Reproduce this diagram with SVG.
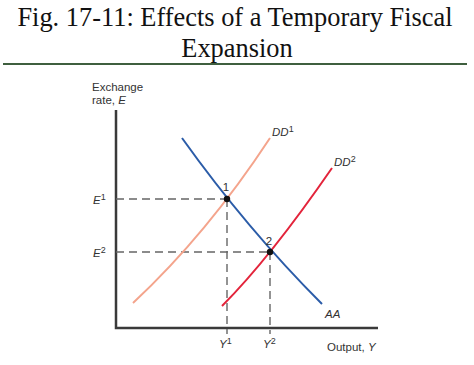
<svg xmlns="http://www.w3.org/2000/svg" width="474" height="365" viewBox="0 0 474 365">
<style>
.title{font-family:"Liberation Serif","Times New Roman",serif;font-size:26.4px;fill:#111;text-anchor:middle}
.lbl{font-family:"Liberation Sans",Arial,sans-serif;font-size:11.5px;fill:#333}
.it{font-style:italic}
.sup{font-size:9px;font-style:normal}
.axis{stroke:#3a3a3a;stroke-width:2.5;fill:none}
.dash{stroke:#666;stroke-width:1.4;stroke-dasharray:8,5;fill:none}
.curve{fill:none;stroke-width:2}
</style>
<rect width="474" height="365" fill="#fff"/>
<g id="title">
<text class="title" x="235" y="26">Fig. 17-11: Effects of a Temporary Fiscal</text>
<text class="title" x="237" y="57">Expansion</text>
<line x1="3" y1="64" x2="467" y2="64" stroke="#3f5f3f" stroke-width="2"/>
</g>
<g id="axes">
<polyline class="axis" points="116,110 116,328 378,328"/>
<text class="lbl" x="92" y="91">Exchange</text>
<text class="lbl" x="92" y="104">rate, <tspan class="it">E</tspan></text>
<text class="lbl" x="327" y="351">Output, <tspan class="it">Y</tspan></text>
</g>
<g id="connectors">
<path class="dash" d="M116,199 H227 M116,252 H270 M227,199 V334 M270,252 V334"/>
<path id="DD1" class="curve" stroke="#f4a48c" d="M133,303 Q207,234 270,138"/>
<path id="DD2" class="curve" stroke="#e3243b" d="M222,306 Q270,258 332,168"/>
<path id="AA" class="curve" stroke="#2b5ca8" d="M182,138 Q247,229 322,304"/>
</g>
<g id="point1">
<circle cx="227" cy="199" r="3.2" fill="#111"/>
<text class="lbl" x="226" y="191" text-anchor="middle">1</text>
</g>
<g id="point2">
<circle cx="270" cy="252" r="3.2" fill="#111"/>
<text class="lbl" x="269" y="245" text-anchor="middle">2</text>
</g>
<g id="labels">
<text class="lbl it" x="93" y="204">E<tspan class="sup" dy="-4">1</tspan></text>
<text class="lbl it" x="93" y="257">E<tspan class="sup" dy="-4">2</tspan></text>
<text class="lbl it" x="219" y="348">Y<tspan class="sup" dy="-4">1</tspan></text>
<text class="lbl it" x="263" y="348">Y<tspan class="sup" dy="-4">2</tspan></text>
<text class="lbl it" x="272" y="136">DD<tspan class="sup" dy="-4">1</tspan></text>
<text class="lbl it" x="334" y="166">DD<tspan class="sup" dy="-4">2</tspan></text>
<text class="lbl it" x="325" y="318">AA</text>
</g>
</svg>
